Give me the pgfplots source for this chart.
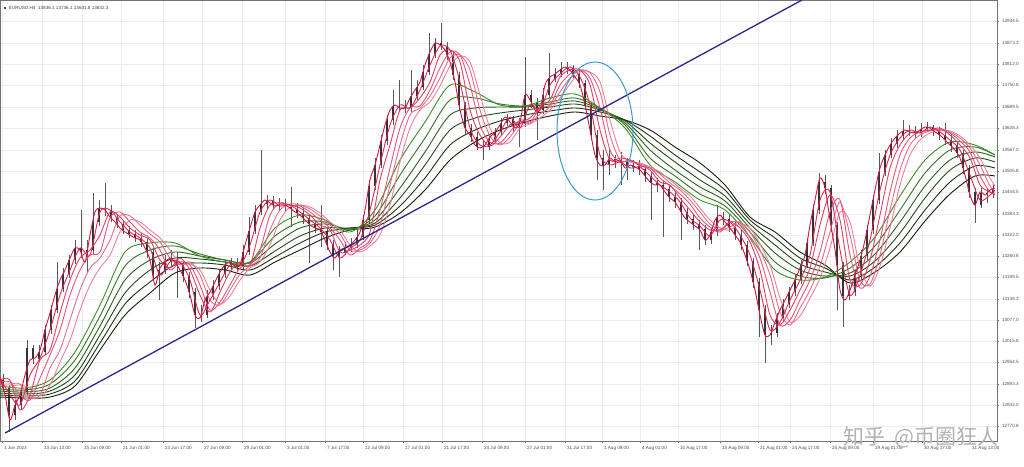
\documentclass[border=0pt]{standalone}
\usepackage{pgfplots}
\usepackage{pgfplotstable}
\pgfplotsset{compat=1.18}
\usepackage{fontspec}
\setmainfont{Liberation Sans}
\newfontfamily\cjk{Noto Sans CJK SC}
\definecolor{r1}{HTML}{D4143F}
\definecolor{r2}{HTML}{DC2A55}
\definecolor{r3}{HTML}{E03E66}
\definecolor{r4}{HTML}{E45577}
\definecolor{r5}{HTML}{E86B88}
\definecolor{r6}{HTML}{EC8199}
\definecolor{g1}{HTML}{3C8C2A}
\definecolor{g2}{HTML}{2F7522}
\definecolor{g3}{HTML}{28601C}
\definecolor{g4}{HTML}{214A17}
\definecolor{g5}{HTML}{1C3512}
\definecolor{g6}{HTML}{121E0C}
\definecolor{trend}{HTML}{28288C}
\definecolor{ring}{HTML}{3A9AD0}

% candles (vertical values in chart units, larger = lower price)
\pgfplotstableread{
x o c h l
3 380 388 374 392
9 388 415 385 432
15 415 405 400 420
21 405 392 388 410
27 392 348 340 396
33 348 359 345 364
39 359 352 345 362
45 352 330 325 355
51 330 310 305 334
57 310 289 262 313
63 289 274 268 292
69 274 260 255 278
75 260 248 240 264
81 248 252 210 258
87 252 250 240 272
93 250 222 193 254
99 222 209 200 226
105 209 210 183 216
111 210 218 205 222
117 218 224 214 228
123 224 230 220 234
129 230 234 226 238
135 234 238 230 242
141 238 242 233 247
147 242 252 238 258
153 252 275 248 280
159 275 270 262 300
165 270 262 255 274
171 262 259 250 266
177 259 265 252 298
183 265 276 262 282
189 276 292 272 298
195 292 315 288 328
201 315 315 305 322
207 315 297 290 318
213 297 286 280 300
219 286 274 270 290
225 274 265 260 278
231 265 263 258 270
237 263 266 258 272
243 266 252 245 270
249 252 231 217 255
255 231 212 205 234
261 212 204 150 215
267 204 201 195 210
273 201 205 196 210
279 205 205 198 211
285 205 205 199 212
291 205 209 187 227
297 209 213 203 218
303 213 218 208 224
309 218 224 214 263
315 224 228 220 233
321 228 232 205 247
327 232 245 228 250
333 245 256 240 270
339 256 252 246 277
345 252 248 242 255
351 248 244 238 252
357 244 237 230 248
363 237 220 215 240
369 220 186 180 224
375 186 165 158 190
381 165 141 135 168
387 141 120 115 145
393 120 106 90 125
399 106 107 80 112
405 107 108 100 113
411 108 96 70 112
417 96 87 80 100
423 87 72 65 90
429 72 54 33 75
435 54 43 38 58
441 43 46 23 50
447 46 55 42 60
453 55 75 52 80
459 75 105 72 110
465 105 128 102 134
471 128 137 124 142
477 137 146 132 150
483 146 147 140 160
489 147 139 134 150
495 139 132 128 142
501 132 123 118 136
507 123 119 114 126
513 119 126 116 132
519 126 124 118 147
525 124 95 57 127
531 95 102 90 108
537 102 110 98 140
543 110 95 88 114
549 95 79 53 98
555 79 74 68 82
561 74 69 62 77
567 69 68 62 74
573 68 74 65 78
579 74 83 70 88
585 83 105 80 110
591 105 135 102 140
597 135 158 130 180
603 158 165 150 190
609 165 159 150 175
615 159 162 155 168
621 162 161 152 185
627 161 167 158 180
633 167 166 160 172
639 166 169 160 175
645 169 176 165 182
651 176 183 172 220
657 183 185 178 192
663 185 189 180 237
669 189 197 185 202
675 197 202 192 208
681 202 212 198 240
687 212 219 208 224
693 219 224 215 230
699 224 229 220 250
705 229 240 225 245
711 240 232 228 244
717 232 218 205 236
723 218 219 212 225
729 219 227 214 232
735 227 235 222 240
741 235 245 230 250
747 245 261 241 266
753 261 282 258 288
759 282 310 278 337
765 310 335 305 363
771 335 333 325 345
777 333 318 313 337
783 318 304 299 322
789 304 292 287 308
795 292 280 275 296
801 280 265 260 284
807 265 243 238 268
813 243 210 204 246
819 210 182 173 214
825 182 188 175 194
831 188 225 185 232
837 225 265 222 310
843 265 296 262 327
849 296 292 285 300
855 292 275 270 296
861 275 256 250 279
867 256 230 225 260
873 230 200 195 234
879 200 172 153 204
885 172 155 150 176
891 155 144 138 158
897 144 136 130 148
903 136 131 120 140
909 131 131 125 136
915 131 133 126 138
921 133 129 123 137
927 129 127 122 132
933 127 131 125 136
939 131 135 127 140
945 135 140 123 145
951 140 146 134 152
957 146 153 142 158
963 153 168 150 174
969 168 192 165 198
975 192 205 188 223
981 205 193 188 208
987 193 194 188 203
993 194 189 184 198
}\candles

% slower red averages
\pgfplotstableread{
x r2 r3 r4 r5 r6
0 378 380 382 384 386
10 395 380 382 384 386
20 405 410 395 384 385
30 375 395 400 398 388
40 358 360 378 395 396
50 330 350 355 368 385
60 295 313 330 350 362
70 270 280 295 320 340
80 248 258 270 290 310
90 255 250 255 268 285
100 212 235 252 258 268
110 210 212 218 240 255
120 222 217 212 216 232
130 232 228 222 216 220
140 238 235 232 225 222
150 248 240 238 234 230
160 275 260 250 242 238
170 262 268 270 258 250
180 262 258 262 265 264
190 280 270 265 262 264
200 315 295 285 275 270
210 300 312 310 300 290
220 282 292 302 305 304
230 265 272 285 290 296
240 266 262 268 274 280
250 245 265 265 266 268
260 212 228 250 258 262
270 200 205 215 230 245
280 206 203 203 210 220
290 205 205 205 204 207
300 212 208 206 205 205
310 220 215 212 209 207
320 228 225 220 216 213
330 240 230 228 225 222
340 258 252 240 234 230
350 248 250 255 250 245
360 240 245 248 250 252
370 210 232 240 243 246
380 165 180 210 225 235
390 125 145 168 185 205
400 105 110 128 145 162
410 108 108 108 115 128
420 90 98 106 108 110
430 65 82 90 96 102
440 46 55 68 78 86
450 50 50 52 58 66
460 82 62 55 55 56
470 128 110 85 70 62
480 145 135 125 110 95
490 145 146 142 136 128
500 132 137 143 145 143
510 117 125 132 137 142
520 128 122 120 124 128
530 105 118 122 123 124
540 110 106 108 114 118
550 85 100 105 107 110
560 74 77 85 92 98
570 67 70 74 78 84
580 77 70 70 70 72
590 105 85 78 73 72
600 155 130 108 92 82
610 165 160 150 135 120
620 162 158 162 160 152
630 168 160 160 161 162
640 167 165 166 164 163
650 176 170 168 168 167
660 185 182 178 174 172
670 192 185 186 183 180
680 202 198 194 190 188
690 218 210 204 200 196
700 226 222 218 212 208
710 236 230 227 224 220
720 220 230 232 230 228
730 222 222 222 227 230
740 235 228 223 222 224
750 255 242 238 232 228
760 290 270 258 250 244
770 330 315 292 275 265
780 322 325 325 312 298
790 300 310 320 325 322
800 280 290 300 308 316
810 255 268 280 290 298
820 200 225 252 266 278
830 192 195 212 232 248
840 250 220 200 202 212
850 295 280 255 235 222
860 275 285 288 280 268
870 240 260 276 284 286
880 190 215 240 255 266
890 155 168 192 210 228
900 138 145 155 170 185
910 130 133 138 145 155
920 133 132 132 135 140
930 127 130 130 131 133
940 132 128 130 129 130
950 140 135 133 132 131
960 150 145 141 138 136
970 175 158 152 148 145
980 200 185 176 165 158
990 195 192 192 186 178
995 190 195 193 191 186
}\redma

% green (long) averages
\pgfplotstableread{
x g1 g2 g3 g4 g5 g6
0 386 389 391 393 395 397
25 388 390 392 394 396 398
50 380 384 388 391 394 397
75 352 360 368 375 381 386
100 305 316 326 335 343 350
125 252 266 280 293 304 315
150 243 250 260 270 282 293
175 243 246 252 258 265 273
200 256 254 256 259 263 268
225 262 260 260 262 265 270
250 262 262 263 266 270 275
275 228 236 244 251 257 262
300 215 222 228 236 243 250
325 220 222 224 228 232 238
350 232 230 229 228 228 230
375 210 216 220 223 225 227
400 160 175 188 198 206 213
425 122 138 152 165 178 190
450 85 100 115 130 145 160
475 92 98 108 118 130 142
500 105 104 107 113 121 130
525 106 106 107 110 115 122
550 98 102 104 107 111 116
575 94 98 101 104 108 112
600 108 108 109 110 112 116
625 128 125 123 121 120 120
650 165 158 150 143 136 130
675 182 176 170 162 155 147
700 200 194 187 180 172 163
725 210 206 201 196 190 185
750 237 232 228 224 220 217
775 270 262 253 245 238 232
800 280 276 270 264 258 252
825 277 278 276 272 268 265
850 262 268 273 276 280 283
875 237 246 254 261 267 272
900 196 210 222 233 243 252
925 160 173 186 198 210 221
950 142 150 160 170 182 194
975 145 147 152 158 166 176
995 155 155 157 162 168 176
}\greenma

\begin{document}
\begin{tikzpicture}
\begin{axis}[
  name=ax, at={(0,0)}, anchor=south west,
  scale only axis, width=997pt, height=441pt,
  xmin=0, xmax=997, ymin=0, ymax=441, y dir=reverse,
  axis line style={black!55, line width=0.6pt},
  tick align=outside, major tick length=2pt,
  tick style={black!55, line width=0.4pt},
  xtick pos=left, ytick pos=right, yticklabel pos=right,
  /pgf/number format/assume math mode=true,
  xmajorgrids, ymajorgrids,
  grid style={black!7, line width=0.4pt},
  ytick={21,43,64,85,107,128,150,171,192,214,235,256,277,299,320,341,362,384,405,426},
  yticklabels={13934.5,13873.3,13812.0,13750.8,13689.5,13628.3,13567.0,13505.8,13444.5,13383.3,13322.0,13260.8,13199.5,13138.3,13077.0,13015.8,12954.5,12893.3,12832.0,12770.8},
  xtick={2,42,82,121,163,202,242,285,325,363,403,442,482,525,565,602,640,678,720,758,790,830,873,922,970},
  xticklabels={1 Jun 2023,13 Jun 13:00,15 Jun 09:00,21 Jun 01:00,23 Jun 17:00,27 Jun 09:00,29 Jun 01:00,3 Jul 01:00,7 Jul 17:00,12 Jul 09:00,17 Jul 01:00,21 Jul 17:00,24 Jul 09:00,27 Jul 01:00,31 Jul 17:00,1 Aug 09:00,4 Aug 01:00,10 Aug 17:00,15 Aug 09:00,21 Aug 01:00,24 Aug 17:00,25 Aug 09:00,29 Aug 01:00,30 Aug 17:00,31 Aug 13:00},
  x tick label style={anchor=north west, xshift=-1.5pt, yshift=0.5pt, font=\fontsize{4.6}{5}\selectfont, text=black!70},
  y tick label style={xshift=-0.5pt, font=\fontsize{4.6}{5}\selectfont, text=black!70},
  clip=true,
]
% wicks
\addplot[draw=none, no markers, forget plot,
  error bars/.cd, y dir=plus, y explicit, error mark=none,
  error bar style={draw=black!65, line width=0.5pt}]
  table[x=x, y=h, y error expr={\thisrow{l}-\thisrow{h}}] {\candles};
% bodies
\addplot[draw=none, no markers, forget plot,
  error bars/.cd, y dir=plus, y explicit, error mark=none,
  error bar style={draw=black!80, line width=1.2pt}]
  table[x=x, y expr={min(\thisrow{o},\thisrow{c})}, y error expr={abs(\thisrow{c}-\thisrow{o})}] {\candles};
% long averages
\addplot[g6, line width=0.9pt, smooth] table[x=x, y=g6] {\greenma};
\addplot[g5, line width=0.9pt, smooth] table[x=x, y=g5] {\greenma};
\addplot[g4, line width=0.9pt, smooth] table[x=x, y=g4] {\greenma};
\addplot[g3, line width=0.9pt, smooth] table[x=x, y=g3] {\greenma};
\addplot[g2, line width=0.9pt, smooth] table[x=x, y=g2] {\greenma};
\addplot[g1, line width=0.9pt, smooth] table[x=x, y=g1] {\greenma};
% short averages
\addplot[r6, line width=0.9pt, smooth] table[x=x, y=r6] {\redma};
\addplot[r5, line width=0.9pt, smooth] table[x=x, y=r5] {\redma};
\addplot[r4, line width=0.9pt, smooth] table[x=x, y=r4] {\redma};
\addplot[r3, line width=0.9pt, smooth] table[x=x, y=r3] {\redma};
\addplot[r2, line width=0.9pt, smooth] table[x=x, y=r2] {\redma};
\addplot[r1, line width=0.9pt, smooth] coordinates {
(0,378)(5,395)(10,420)(15,405)(20,395)(25,375)(30,360)(35,358)(40,350)(45,330)(50,313)(55,295)(60,280)(65,270)(70,258)(75,248)(80,250)(85,262)(90,235)(95,212)(100,208)(105,210)(110,217)(115,222)(120,228)(125,232)(130,235)(135,238)(140,240)(145,248)(150,260)(155,285)(160,268)(165,262)(170,258)(175,262)(180,270)(185,280)(190,295)(195,315)(200,318)(205,300)(210,292)(215,282)(220,272)(225,265)(230,262)(235,266)(240,265)(245,245)(250,228)(255,212)(260,205)(265,200)(270,203)(275,206)(280,205)(285,205)(290,208)(295,212)(300,215)(305,220)(310,225)(315,228)(320,230)(325,240)(330,252)(335,258)(340,250)(345,248)(350,245)(355,240)(360,232)(365,210)(370,180)(375,165)(380,145)(385,125)(390,110)(395,105)(400,108)(405,108)(410,98)(415,90)(420,82)(425,65)(430,52)(435,43)(440,45)(445,50)(450,62)(455,82)(460,110)(465,128)(470,135)(475,145)(480,148)(485,145)(490,137)(495,132)(500,125)(505,117)(510,122)(515,128)(520,122)(525,95)(530,100)(535,110)(540,110)(545,85)(550,77)(555,74)(560,70)(565,67)(570,70)(575,77)(580,85)(585,105)(590,130)(595,155)(600,165)(605,165)(610,158)(615,162)(620,160)(625,168)(630,165)(635,167)(640,170)(645,176)(650,182)(655,185)(660,185)(665,192)(670,198)(675,202)(680,210)(685,218)(690,222)(695,226)(700,230)(705,240)(710,235)(715,220)(720,215)(725,222)(730,228)(735,235)(740,242)(745,255)(750,270)(755,290)(760,315)(765,335)(770,335)(775,322)(780,310)(785,300)(790,290)(795,280)(800,268)(805,255)(810,225)(815,200)(820,178)(825,188)(830,220)(835,250)(840,290)(845,300)(850,290)(855,275)(860,260)(865,240)(870,215)(875,190)(880,168)(885,155)(890,145)(895,138)(900,133)(905,130)(910,132)(915,133)(920,130)(925,127)(930,128)(935,132)(940,135)(945,140)(950,145)(955,150)(960,158)(965,175)(970,195)(975,205)(980,192)(985,195)(990,190)(995,188)
};
% trend line
\addplot[trend, line width=1.3pt] coordinates {(5,433) (802,0)};
% highlighted zone
\draw[ring, line width=1pt] (axis cs:595,131) ellipse [x radius=38pt, y radius=69pt];
% header
\node[anchor=west, inner sep=0pt, font=\fontsize{4.6}{5}\selectfont, text=black!75] at (axis cs:4,8)
  {\rule{2.2pt}{2.2pt}\ \ EURUSD,H4\ \ 13836.1 13736.1 13631.8 13632.3};
\end{axis}
% watermark
\node[text=black!30, font=\cjk\fontsize{21}{21}\selectfont, inner sep=0pt] at (921pt,4pt) {知乎\ \ @币圈狂人};
\pgfresetboundingbox
\path (0pt,-25pt) rectangle (1024pt,441pt);
\end{tikzpicture}
\end{document}
